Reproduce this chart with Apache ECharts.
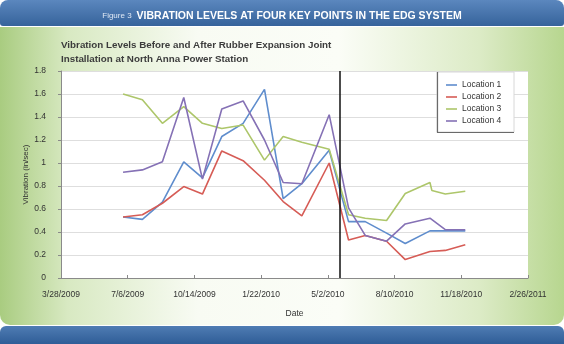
<!DOCTYPE html>
<html>
<head>
<meta charset="utf-8">
<script src="https://cdn.jsdelivr.net/npm/echarts@6/dist/echarts.min.js"></script>
<style>
html,body{margin:0;padding:0;background:#fff;}
#chart{width:564px;height:344px;}
</style>
</head>
<body>
<div id="chart"></div>
<script>
// ---- data ----
const seriesNames = ['Location 1', 'Location 2', 'Location 3', 'Location 4'];
const datesMain = ['2009-06-29','2009-07-28','2009-08-27','2009-09-28','2009-10-26','2009-11-24','2009-12-26','2010-01-27','2010-02-24','2010-03-24','2010-05-04','2010-06-02','2010-06-27','2010-07-29','2010-08-26','2010-10-02','2010-10-25','2010-11-24'];
const datesLoc3 = ['2009-06-29','2009-07-28','2009-08-27','2009-09-28','2009-10-26','2009-11-24','2009-12-26','2010-01-27','2010-02-24','2010-03-24','2010-05-04','2010-06-02','2010-06-27','2010-07-29','2010-08-26','2010-10-02','2010-10-05','2010-10-25','2010-11-24'];
const loc1 = [0.53,0.51,0.66,1.01,0.87,1.23,1.345,1.64,0.69,0.82,1.11,0.49,0.49,0.39,0.30,0.41,0.41,0.41];
const loc2 = [0.53,0.55,0.65,0.795,0.73,1.105,1.02,0.85,0.665,0.54,1.00,0.33,0.37,0.32,0.16,0.23,0.24,0.29];
const loc3 = [1.60,1.55,1.345,1.49,1.345,1.30,1.33,1.025,1.23,1.18,1.12,0.55,0.52,0.50,0.735,0.83,0.76,0.73,0.755];
const loc4 = [0.92,0.94,1.01,1.57,0.86,1.47,1.54,1.20,0.83,0.82,1.42,0.61,0.37,0.32,0.47,0.52,0.42,0.42];
const installDate = '2010-05-20';
const axisStartDate = '2009-03-28';
const yTicks = {min: 0, max: 1.8, step: 0.2};

// ---- helpers ----
function parseUTC(s){ const p = s.split('-').map(Number); return Date.UTC(p[0], p[1]-1, p[2]); }
const base = parseUTC(axisStartDate);
const DAY = 86400000;
function toOffset(s){ return (parseUTC(s) - base) / DAY; }
function fmtOffset(v){ const d = new Date(base + v*DAY); return (d.getUTCMonth()+1) + '/' + d.getUTCDate() + '/' + d.getUTCFullYear(); }
function pairs(dates, vals){ return dates.map((d,i) => [toOffset(d), vals[i]]); }

const colors = ['#5f8dcd', '#d65c56', '#adc66a', '#8571b5'];
const seriesData = [pairs(datesMain, loc1), pairs(datesMain, loc2), pairs(datesLoc3, loc3), pairs(datesMain, loc4)];

const FONT = "'Liberation Sans', Arial, sans-serif";

const chart = echarts.init(document.getElementById('chart'), null, {renderer: 'canvas'});
const option = {
  animation: false,
  color: colors,
  title: [
    {
      text: '{a|Figure 3} {b|VIBRATION LEVELS AT FOUR KEY POINTS IN THE EDG SYSTEM}',
      left: 'center', top: 7, padding: 0,
      textStyle: {
        rich: {
          a: {fontFamily: FONT, fontSize: 8, color: '#dfe8f4', fontWeight: 'normal'},
          b: {fontFamily: FONT, fontSize: 10.5, color: '#ffffff', fontWeight: 'bold'}
        }
      }
    },
    {
      text: 'Vibration Levels Before and After Rubber Expansion Joint\nInstallation at North Anna Power Station',
      left: 61, top: 38, padding: 0,
      textStyle: {fontFamily: FONT, fontSize: 9.8, fontWeight: 'bold', color: '#3c3c3c', lineHeight: 14}
    }
  ],
  graphic: [
    {type: 'rect', z: -100, shape: {x: 0, y: 0, width: 564, height: 26, r: [8, 8, 3, 3]},
     style: {fill: new echarts.graphic.LinearGradient(0, 0, 0, 1, [{offset: 0, color: '#5b87be'}, {offset: 1, color: '#36639b'}])}},
    {type: 'rect', z: -100, shape: {x: 0, y: 27, width: 564, height: 298, r: [0, 0, 10, 10]},
     style: {fill: new echarts.graphic.LinearGradient(0, 0, 1, 0, [
       {offset: 0, color: '#a9cc80'}, {offset: 0.12, color: '#d8e9c2'}, {offset: 0.35, color: '#f8fbf3'},
       {offset: 0.6, color: '#fbfdf7'}, {offset: 0.85, color: '#dcebc6'}, {offset: 1, color: '#b7d68f'}])}},
    {type: 'rect', z: -100, shape: {x: 0, y: 326, width: 564, height: 18, r: [6, 6, 0, 0]},
     style: {fill: new echarts.graphic.LinearGradient(0, 0, 0, 1, [{offset: 0, color: '#4f7cb3'}, {offset: 1, color: '#2f5d97'}])}},
    {type: 'rect', z: 3, shape: {x: 437, y: 72, width: 77, height: 60},
     style: {fill: '#ffffff', stroke: '#d8d8d8', lineWidth: 1}},
    {type: 'polyline', z: 3, shape: {points: [[437.5, 72], [437.5, 132.5], [514, 132.5]]},
     style: {stroke: '#6a6a6a', lineWidth: 1.2, fill: null}}
  ],
  legend: {
    orient: 'vertical', left: 446, top: 80, padding: 0, itemGap: 2,
    icon: 'rect', itemWidth: 11, itemHeight: 1.6, itemTextGap: 5,
    data: seriesNames,
    textStyle: {fontFamily: FONT, fontSize: 8.5, color: '#333', lineHeight: 10}
  },
  grid: {left: 61, right: 36, top: 71, bottom: 66, show: true, backgroundColor: '#ffffff', borderWidth: 0},
  xAxis: {
    type: 'value', min: 0, max: 700, interval: 100,
    name: 'Date', nameLocation: 'middle', nameGap: 31,
    nameTextStyle: {fontFamily: FONT, fontSize: 8.5, color: '#333'},
    axisLine: {show: true, lineStyle: {color: '#8a8a8a', width: 1}},
    axisTick: {show: true, inside: true, length: 3, lineStyle: {color: '#8a8a8a'}},
    axisLabel: {formatter: fmtOffset, fontFamily: FONT, fontSize: 8.5, color: '#333', margin: 12},
    splitLine: {show: false}
  },
  yAxis: {
    type: 'value', min: yTicks.min, max: yTicks.max, interval: yTicks.step,
    name: 'Vibration (in/sec)', nameLocation: 'middle', nameGap: 31, nameRotate: 90,
    nameMoveOverlap: false,
    nameTextStyle: {fontFamily: FONT, fontSize: 8, color: '#333'},
    axisLine: {show: true, lineStyle: {color: '#8a8a8a', width: 1}},
    axisTick: {show: true, length: 3, lineStyle: {color: '#8a8a8a'}},
    axisLabel: {fontFamily: FONT, fontSize: 8.5, color: '#333', margin: 15},
    splitLine: {show: true, lineStyle: {color: '#dedede', width: 1}}
  },
  series: seriesNames.map((n, i) => ({
    name: n, type: 'line', data: seriesData[i], symbol: 'none', smooth: false,
    lineStyle: {width: 1.6, color: colors[i]}, itemStyle: {color: colors[i]},
    markLine: i === 0 ? {
      silent: true, symbol: 'none', label: {show: false},
      lineStyle: {color: '#111', width: 1.5, type: 'solid'},
      data: [{xAxis: toOffset(installDate)}]
    } : undefined
  }))
};
chart.setOption(option);
</script>
</body>
</html>
